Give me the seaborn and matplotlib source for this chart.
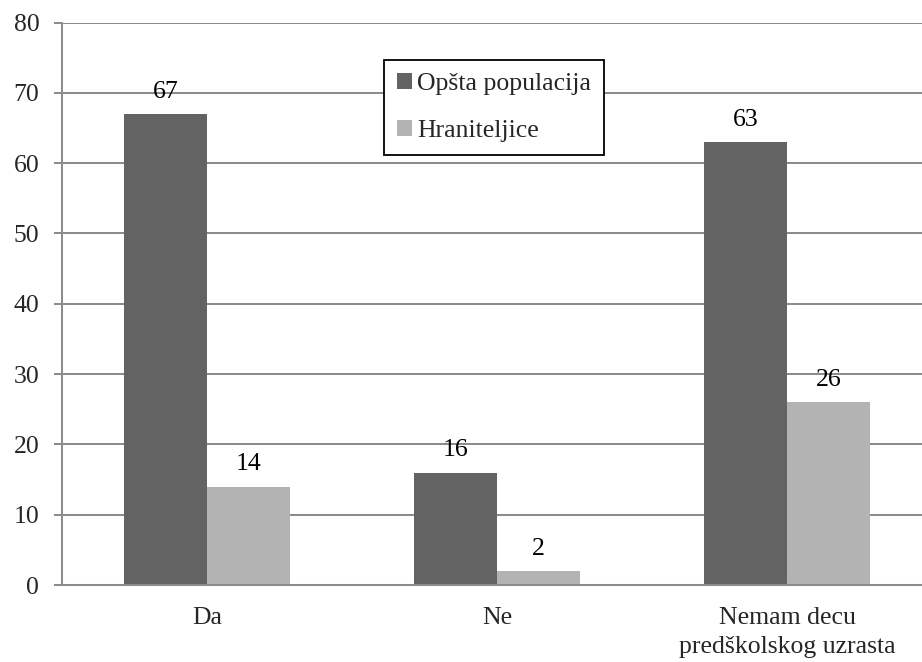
import matplotlib
matplotlib.use("Agg")
import matplotlib.pyplot as plt
import seaborn as sns
import pandas as pd
from matplotlib.patches import Patch

categories = ["Da", "Ne", "Nemam decu\npredškolskog uzrasta"]
series_names = ["Opšta populacija", "Hraniteljice"]
opsta = [67, 16, 63]
hraniteljice = [14, 2, 26]
yticks = [0, 10, 20, 30, 40, 50, 60, 70, 80]

df = pd.DataFrame({
    "cat": categories * 2,
    "grp": [series_names[0]] * 3 + [series_names[1]] * 3,
    "val": opsta + hraniteljice,
})

sns.set_style("white")
plt.rcParams["font.family"] = ["Liberation Serif", "DejaVu Serif"]
FS = 18.5
GRAY = "#8c8c8c"
colors = ["#636363", "#b3b3b3"]

fig = plt.figure(figsize=(9.22, 6.62), dpi=100)
ax = fig.add_axes([62 / 922, 77 / 662, 870 / 922, 562.5 / 662])

sns.barplot(data=df, x="cat", y="val", hue="grp", order=categories,
            hue_order=series_names, palette=colors, width=0.572,
            saturation=1, legend=False, ax=ax, edgecolor="none", linewidth=0)

for cont in ax.containers:
    ax.bar_label(cont, fmt="%d", padding=8, fontsize=FS, color="black")

ax.set_xlim(-0.5, 2.5)
ax.set_ylim(0, 80)
ax.set_yticks(yticks)
ax.set_yticklabels([str(t) for t in yticks], fontsize=FS)
ax.yaxis.grid(True, color=GRAY, linewidth=1.45)
ax.set_axisbelow(True)
ax.set_xlabel("")
ax.set_ylabel("")

ax.set_xticks(range(len(categories)))
ax.set_xticklabels(categories, fontsize=FS, linespacing=1.38)
ax.set_xticks([-0.5, 0.5, 1.5, 2.5], minor=True)
ax.tick_params(axis="x", which="major", length=0, pad=16)
ax.tick_params(axis="x", which="minor", length=5.5, width=1.45, color=GRAY, direction="out")
ax.tick_params(axis="y", which="major", length=5.8, width=1.45, color=GRAY, direction="out", pad=10.5, left=True)

for s in ["top", "right"]:
    ax.spines[s].set_visible(False)
for s in ["left", "bottom"]:
    ax.spines[s].set_visible(True)
    ax.spines[s].set_color(GRAY)
    ax.spines[s].set_linewidth(1.45)

handles = [Patch(facecolor=c, edgecolor="none") for c in colors]
leg = fig.legend(handles, series_names, loc="upper left",
                 bbox_to_anchor=(384 / 922, 1 - 60 / 662), bbox_transform=fig.transFigure,
                 borderaxespad=0, fontsize=FS, frameon=True, fancybox=False,
                 framealpha=1, edgecolor="black", handlelength=0.58, handleheight=0.58,
                 handletextpad=0.2, labelspacing=0.98, borderpad=0.5)
leg.get_frame().set_linewidth(1.3)

fig.savefig("out.png", dpi=100)
